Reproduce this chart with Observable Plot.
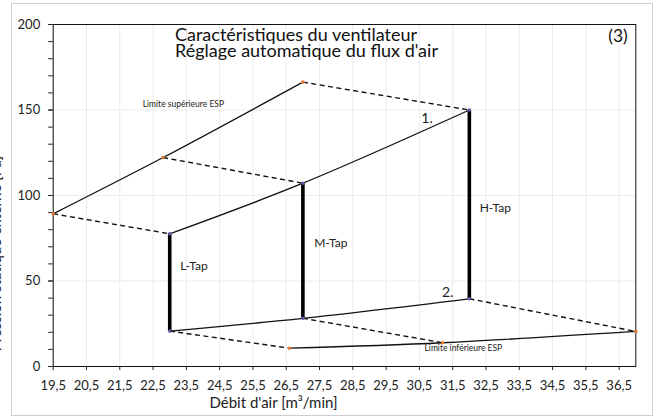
<!DOCTYPE html>
<html><head><meta charset="utf-8">
<script src="https://cdn.jsdelivr.net/npm/d3@7"></script>
<script src="https://cdn.jsdelivr.net/npm/@observablehq/plot@0.6"></script>
<style>
body{margin:0;background:#fff;}
#wrap{position:relative;width:658px;height:416px;overflow:hidden;}
#border{position:absolute;left:11px;top:3px;width:642px;height:413px;border:1.5px solid #cdcdcd;box-sizing:border-box;pointer-events:none;z-index:1;}
svg{display:block;}
</style></head><body>
<div id="wrap"><div id="border"></div></div>
<script>
// ---- data ----
const xTicks = [19.5,20.5,21.5,22.5,23.5,24.5,25.5,26.5,27.5,28.5,29.5,30.5,31.5,32.5,33.5,34.5,35.5,36.5];
const yTicks = [0,50,100,150,200];
const yMinorTicks = [0,10,20,30,40,50,60,70,80,90,100,110,120,130,140,150,160,170,180,190,200];

const upperX = [19.5, 22.8, 27.0];   // Limite supérieure ESP
const upperY = [89.3, 122.2, 166.3];
const tap1X = [23, 27, 32];          // courbe 1. (haut des taps)
const tap1Y = [77.6, 107.2, 150];
const tap2X = [23, 27, 32];          // courbe 2. (bas des taps)
const tap2Y = [20.7, 28.2, 39.6];
const lowerX = [26.6, 31.2, 37.0];   // Limite inférieure ESP
const lowerY = [10.7, 13.9, 20.5];

const tapNames = ["L-Tap", "M-Tap", "H-Tap"];
const tapLabelX = [23.73, 27.84, 32.78];
const tapLabelY = [58.5, 71.9, 92.4];

const noteTexts = ["Limite supérieure ESP", "Limite inférieure ESP"];
const noteX = [23.41, 31.82];
const noteY = [153.2, 10.8];
const curveTexts = ["1.", "2."];
const curveTextX = [30.73, 31.35];
const curveTextY = [145.3, 43.1];

const titleLines = ["Caractéristiques du ventilateur", "Réglage automatique du flux d'air"];
const chartNumber = "(3)";
const xLabel = "Débit d'air [m³/min]";
const yLabel = "Pression statique externe [Pa]";

// ---- tables ----
const pts = (X, Y) => X.map((x, i) => ({x, y: Y[i]}));
const upper = pts(upperX, upperY);
const tap1 = pts(tap1X, tap1Y);
const tap2 = pts(tap2X, tap2Y);
const lower = pts(lowerX, lowerY);
const dashed = [
  ...upper.map((p, i) => ({x1: p.x, y1: p.y, x2: tap1[i].x, y2: tap1[i].y})),
  ...tap2.map((p, i) => ({x1: p.x, y1: p.y, x2: lower[i].x, y2: lower[i].y}))
];
const verticals = tap1.map((p, i) => ({x: p.x, top: p.y, bottom: tap2[i].y}));
const tapLabels = tapNames.map((t, i) => ({t, x: tapLabelX[i], y: tapLabelY[i]}));
const notes = noteTexts.map((t, i) => ({t, x: noteX[i], y: noteY[i]}));
const curveLabels = curveTexts.map((t, i) => ({t, x: curveTextX[i], y: curveTextY[i]}));

const fmt = d => String(d).replace(".", ",");
const F = "Lato, 'Open Sans', sans-serif";

const chart = Plot.plot({
  width: 658, height: 416,
  marginLeft: 52.7, marginRight: 22.7, marginTop: 24, marginBottom: 50,
  style: {fontFamily: F, fontSize: "13px", background: "transparent", color: "#222", overflow: "visible"},
  x: {domain: [19.5, 37]},
  y: {domain: [0, 200]},
  marks: [
    Plot.gridX(xTicks, {stroke: "#ebebeb", strokeOpacity: 1}),
    Plot.gridY(yTicks, {stroke: "#ebebeb", strokeOpacity: 1}),
    Plot.axisX({ticks: xTicks, tickFormat: fmt, tickSize: 4, tickPadding: 10, label: null, stroke: "#222"}),
    Plot.axisY({ticks: yTicks, tickSize: 4.5, tickPadding: 8.5, label: null}),
    Plot.axisY({ticks: yMinorTicks, tickSize: 4.5, tickFormat: () => "", label: null}),
    Plot.frame({stroke: "#111", strokeWidth: 1}),
    Plot.line(upper, {x: "x", y: "y", curve: "catmull-rom", stroke: "#111", strokeWidth: 1.3}),
    Plot.line(tap1, {x: "x", y: "y", curve: "catmull-rom", stroke: "#111", strokeWidth: 1.3}),
    Plot.line(tap2, {x: "x", y: "y", curve: "catmull-rom", stroke: "#111", strokeWidth: 1.3}),
    Plot.line(lower, {x: "x", y: "y", curve: "catmull-rom", stroke: "#111", strokeWidth: 1.3}),
    Plot.link(dashed, {x1: "x1", y1: "y1", x2: "x2", y2: "y2", stroke: "#111", strokeWidth: 1.4, strokeDasharray: "5,3.5"}),
    Plot.link(verticals, {x1: "x", y1: "top", x2: "x", y2: "bottom", stroke: "#000", strokeWidth: 3.6}),
    Plot.dot([...upper, ...lower], {x: "x", y: "y", r: 1.8, fill: "#e2782f", stroke: null}),
    Plot.dot([...tap1, ...tap2], {x: "x", y: "y", r: 1.8, fill: "#5b5fa3", stroke: null}),
    Plot.text(tapLabels, {x: "x", y: "y", text: "t", fontSize: 12, fill: "#222"}),
    Plot.text(notes, {x: "x", y: "y", text: "t", fontSize: 8.5, fill: "#222"}),
    Plot.text(curveLabels, {x: "x", y: "y", text: "t", fontSize: 14, fill: "#222"}),
    Plot.text([titleLines[0]], {frameAnchor: "top-left", text: d => d, dx: 242.8, dy: 16.2, lineAnchor: "bottom", textAnchor: "middle", fontSize: 18, fill: "#111"}),
    Plot.text([titleLines[1]], {frameAnchor: "top-left", text: d => d, dx: 253.3, dy: 32.5, lineAnchor: "bottom", textAnchor: "middle", fontSize: 18, fill: "#111"}),
    Plot.text([chartNumber], {frameAnchor: "top-right", text: d => d, dx: -8, dy: 17, lineAnchor: "bottom", textAnchor: "end", fontSize: 17.5, fill: "#111"}),
    Plot.text([xLabel], {frameAnchor: "bottom-left", text: d => d, dx: 220.3, dy: 41, lineAnchor: "bottom", textAnchor: "middle", fontSize: 15, fill: "#222"}),
    Plot.text([yLabel], {frameAnchor: "left", text: d => d, dx: -52, dy: 58, rotate: -90, lineAnchor: "bottom", textAnchor: "middle", fontSize: 15, fill: "#222"})
  ]
});
document.getElementById("wrap").appendChild(chart);
</script>
</body></html>
